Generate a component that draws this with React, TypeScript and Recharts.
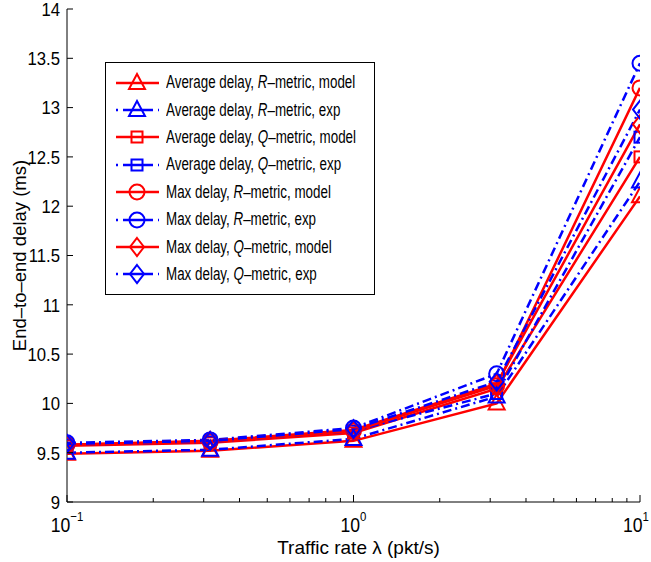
import React from 'react';
import { LineChart, Line, XAxis, YAxis, Legend } from 'recharts';

// traffic rates (pkt/s), one per measured point
const rates = [0.1, 0.316, 1, 3.16, 10];

// end-to-end delay (ms)
const avgRModel = [9.49, 9.52, 9.62, 10.0, 12.1];
const avgRExp = [9.5, 9.53, 9.64, 10.07, 12.25];
const avgQModel = [9.57, 9.6, 9.7, 10.15, 12.5];
const avgQExp = [9.58, 9.61, 9.72, 10.1, 12.7];
const maxRModel = [9.58, 9.61, 9.72, 10.18, 13.2];
const maxRExp = [9.6, 9.63, 9.75, 10.3, 13.45];
const maxQModel = [9.58, 9.62, 9.73, 10.2, 12.83];
const maxQExp = [9.59, 9.62, 9.74, 10.22, 12.98];

const yTicks = [9, 9.5, 10, 10.5, 11, 11.5, 12, 12.5, 13, 13.5, 14];
const xTicks = [
  0.1, 0.2, 0.3, 0.4, 0.5, 0.6, 0.7, 0.8, 0.9,
  1, 2, 3, 4, 5, 6, 7, 8, 9, 10,
];
const decades = [0.1, 1, 10];
const decadeExp = ['\u22121', '0', '1'];

const FONT = '"Liberation Sans", Arial, Helvetica, sans-serif';
const RED = '#ff0000';
const BLUE = '#0000ff';
const DASHDOT = '9 4 2 4';

type MarkerKind = 'triangle' | 'square' | 'circle' | 'diamond';

const series = [
  { key: 'avgRModel', values: avgRModel, head: 'Average delay, ', metric: 'R', tail: '\u2013metric, model', color: RED, exp: false, marker: 'triangle' as MarkerKind },
  { key: 'avgRExp', values: avgRExp, head: 'Average delay, ', metric: 'R', tail: '\u2013metric, exp', color: BLUE, exp: true, marker: 'triangle' as MarkerKind },
  { key: 'avgQModel', values: avgQModel, head: 'Average delay, ', metric: 'Q', tail: '\u2013metric, model', color: RED, exp: false, marker: 'square' as MarkerKind },
  { key: 'avgQExp', values: avgQExp, head: 'Average delay, ', metric: 'Q', tail: '\u2013metric, exp', color: BLUE, exp: true, marker: 'square' as MarkerKind },
  { key: 'maxRModel', values: maxRModel, head: 'Max delay, ', metric: 'R', tail: '\u2013metric, model', color: RED, exp: false, marker: 'circle' as MarkerKind },
  { key: 'maxRExp', values: maxRExp, head: 'Max delay, ', metric: 'R', tail: '\u2013metric, exp', color: BLUE, exp: true, marker: 'circle' as MarkerKind },
  { key: 'maxQModel', values: maxQModel, head: 'Max delay, ', metric: 'Q', tail: '\u2013metric, model', color: RED, exp: false, marker: 'diamond' as MarkerKind },
  { key: 'maxQExp', values: maxQExp, head: 'Max delay, ', metric: 'Q', tail: '\u2013metric, exp', color: BLUE, exp: true, marker: 'diamond' as MarkerKind },
];

const data = rates.map((rate, i) => {
  const row: Record<string, number> = { rate };
  series.forEach((s) => {
    row[s.key] = s.values[i];
  });
  return row;
});

const MarkerShape = ({ kind, cx, cy, color }: { kind: MarkerKind; cx: number; cy: number; color: string }) => {
  const common = { fill: 'none', stroke: color, strokeWidth: 2 };
  if (kind === 'triangle') {
    return <polygon points={`${cx},${cy - 9} ${cx + 8},${cy + 6} ${cx - 8},${cy + 6}`} {...common} />;
  }
  if (kind === 'square') {
    return <rect x={cx - 5.5} y={cy - 5.5} width={11} height={11} {...common} />;
  }
  if (kind === 'circle') {
    return <circle cx={cx} cy={cy} r={7.5} {...common} />;
  }
  return <polygon points={`${cx},${cy - 9} ${cx + 7},${cy} ${cx},${cy + 9} ${cx - 7},${cy}`} {...common} />;
};

const makeDot = (kind: MarkerKind, color: string) => (props: any) => {
  const { cx, cy, index } = props;
  if (cx == null || cy == null) return <g key={`m-${index}`} />;
  return (
    <g key={`m-${index}`}>
      <MarkerShape kind={kind} cx={cx} cy={cy} color={color} />
    </g>
  );
};

const BottomTick = (props: any) => {
  const { x, y, payload } = props;
  const idx = decades.indexOf(payload.value);
  const major = idx >= 0;
  // keep the last label inside the page edge
  const shift = idx === decades.length - 1 ? -4 : 0;
  return (
    <g>
      <line x1={x} x2={x} y1={y} y2={y - (major ? 7 : 4)} stroke="#000" />
      {major && (
        <text
          transform={`translate(${x + shift},${y + 30}) scale(0.88,1)`}
          textAnchor="middle"
          fontFamily={FONT}
          fontSize={20}
          fill="#000"
        >
          10
          <tspan dy={-11} fontSize={13}>{decadeExp[idx]}</tspan>
        </text>
      )}
    </g>
  );
};

const TopTick = (props: any) => {
  const { x, y, payload } = props;
  const major = decades.indexOf(payload.value) >= 0;
  return <line x1={x} x2={x} y1={y} y2={y + (major ? 7 : 4)} stroke="#000" />;
};

const LeftTick = (props: any) => {
  const { x, y, payload } = props;
  return (
    <g>
      <line x1={x} x2={x + 6} y1={y} y2={y} stroke="#000" />
      <text
        transform={`translate(${x - 7},${y}) scale(0.88,1)`}
        dy="0.36em"
        textAnchor="end"
        fontFamily={FONT}
        fontSize={19}
        fill="#000"
      >
        {String(payload.value)}
      </text>
    </g>
  );
};

const RightTick = (props: any) => {
  const { x, y } = props;
  return <line x1={x} x2={x - 6} y1={y} y2={y} stroke="#000" />;
};

const XTitle = (props: any) => {
  const { viewBox } = props;
  return (
    <text x={viewBox.x + viewBox.width / 2 + 5} y={viewBox.y + 52} textAnchor="middle" fontFamily={FONT} fontSize={19} fill="#000">
      Traffic rate {'\u03bb'} (pkt/s)
    </text>
  );
};

const YTitle = (props: any) => {
  const { viewBox } = props;
  const cx = 19;
  const cy = viewBox.y + viewBox.height / 2;
  return (
    <text x={cx} y={cy} transform={`rotate(-90, ${cx}, ${cy})`} textAnchor="middle" dominantBaseline="central" fontFamily={FONT} fontSize={18.5} fill="#000">
      End{'\u2013'}to{'\u2013'}end delay (ms)
    </text>
  );
};

const LegendBox = () => (
  <div
    style={{
      border: '1px solid #000',
      background: '#fff',
      padding: '6px 0',
      fontFamily: FONT,
      fontSize: 17.5,
      color: '#000',
      boxSizing: 'border-box',
      width: 270,
      overflow: 'hidden',
    }}
  >
    {series.map((s) => (
      <div key={s.key} style={{ display: 'flex', alignItems: 'center', height: 27.4, whiteSpace: 'nowrap' }}>
        <svg width={60} height={22} style={{ flex: 'none' }}>
          <line
            x1={10}
            x2={53}
            y1={11}
            y2={11}
            stroke={s.color}
            strokeWidth={2.5}
            strokeDasharray={s.exp ? '2 5 30 5 2' : undefined}
          />
          <MarkerShape kind={s.marker} cx={31} cy={11} color={s.color} />
        </svg>
        <span style={{ display: 'inline-block', transform: 'scaleX(0.765)', transformOrigin: 'left center' }}>
          {s.head}
          <i>{s.metric}</i>
          {s.tail}
        </span>
      </div>
    ))}
  </div>
);

export default function App() {
  return (
    <div style={{ position: 'absolute', left: 0, top: 0, background: '#fff' }}>
      <LineChart width={651} height={562} data={data} margin={{ top: 9, right: 11, bottom: 0, left: 0 }}>
        <XAxis
          dataKey="rate"
          type="number"
          scale="log"
          domain={[0.1, 10]}
          allowDataOverflow
          ticks={xTicks}
          interval={0}
          height={60}
          tickSize={0}
          tickMargin={0}
          tick={<BottomTick />}
          axisLine={{ stroke: '#000' }}
          label={<XTitle />}
        />
        <XAxis
          xAxisId="top"
          dataKey="rate"
          type="number"
          scale="log"
          domain={[0.1, 10]}
          allowDataOverflow
          orientation="top"
          ticks={xTicks}
          interval={0}
          height={0}
          tickSize={0}
          tickMargin={0}
          tick={<TopTick />}
          axisLine={{ stroke: '#000' }}
        />
        <YAxis
          type="number"
          domain={[9, 14]}
          allowDataOverflow
          ticks={yTicks}
          interval={0}
          width={67}
          tickSize={0}
          tickMargin={0}
          tick={<LeftTick />}
          axisLine={{ stroke: '#000' }}
          label={<YTitle />}
        />
        <YAxis
          yAxisId="right"
          orientation="right"
          type="number"
          domain={[9, 14]}
          allowDataOverflow
          ticks={yTicks}
          interval={0}
          width={0}
          tickSize={0}
          tickMargin={0}
          tick={<RightTick />}
          axisLine={{ stroke: '#000' }}
        />
        <Legend
          layout="horizontal"
          verticalAlign="middle"
          align="center"
          wrapperStyle={{ left: 105, top: 62, width: 270 }}
          content={<LegendBox />}
        />
        {series.map((s) => (
          <Line
            key={s.key}
            dataKey={s.key}
            stroke={s.color}
            strokeWidth={2.5}
            strokeDasharray={s.exp ? DASHDOT : undefined}
            dot={makeDot(s.marker, s.color)}
            activeDot={false}
            isAnimationActive={false}
          />
        ))}
      </LineChart>
    </div>
  );
}
